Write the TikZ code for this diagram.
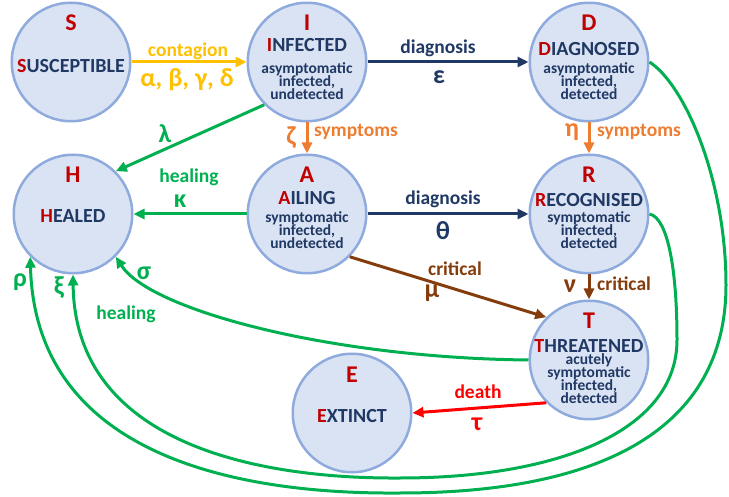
\documentclass[tikz,border=0pt]{standalone}
\usepackage{fontspec}
\setmainfont{Carlito}
\usetikzlibrary{arrows.meta,calc}
\lineskiplimit=-50pt
\newcommand\dlines[1]{\vtop{\halign{\hfil##\hfil\cr#1\crcr}}}
\definecolor{cfill}{HTML}{DAE3F3}
\definecolor{cborder}{HTML}{8FAADC}
\definecolor{navy}{HTML}{203864}
\definecolor{dred}{HTML}{C00000}
\definecolor{cyel}{HTML}{FFC000}
\definecolor{corange}{HTML}{ED7D31}
\definecolor{cgreen}{HTML}{00B050}
\definecolor{cbrown}{HTML}{843C0C}
\definecolor{cred}{HTML}{FF0000}
\begin{document}
\begin{tikzpicture}[x=1pt,y=-1pt,
  state/.style={circle, draw=cborder, fill=cfill, line width=2.5pt, minimum size=118.5pt, inner sep=0pt},
  big/.style={text=dred, font=\bfseries\fontsize{24}{26}\selectfont, inner sep=0pt, anchor=base},
  nm/.style={text=navy, font=\bfseries\fontsize{20}{22}\selectfont, inner sep=0pt, anchor=base},
  desc/.style={text=navy, font=\bfseries\fontsize{15.5}{13}\selectfont, inner sep=0pt, anchor=base},
  edge/.style={line width=3pt, -{Triangle[length=11pt,width=10pt]}},
  lab/.style={font=\bfseries\fontsize{19.5}{21}\selectfont, inner sep=0pt, anchor=base},
  gk/.style={font=\bfseries\fontsize{26}{28}\selectfont, inner sep=0pt, anchor=base}]
\useasboundingbox (0,0) rectangle (729,497);
% states
\node[state] (S) at (71,62) {};
\node[big] (Sl) at ($(S)+(0,-31)$) {S};
\node[nm] (Sn) at ($(S)+(0,10.7)$) {\textcolor{dred}{S}USCEPTIBLE};
\node[state] (I) at (307,62) {};
\node[big] (Il) at ($(I)+(0,-31)$) {I};
\node[nm] (In) at ($(I)+(0,-10.3)$) {\textcolor{dred}{I}NFECTED};
\node[desc] (Id) at ($(I)+(0,12)$) {\dlines{asymptomatic\cr infected,\cr undetected}};
\node[state] (D) at (589,62) {};
\node[big] (Dl) at ($(D)+(0,-31)$) {D};
\node[nm] (Dn) at ($(D)+(0,-6.5)$) {\textcolor{dred}{D}IAGNOSED};
\node[desc] (Dd) at ($(D)+(0,12)$) {\dlines{asymptomatic\cr infected,\cr detected}};
\node[state] (H) at (73,214) {};
\node[big] (Hl) at ($(H)+(0,-31)$) {H};
\node[nm] (Hn) at ($(H)+(0,8.7)$) {\textcolor{dred}{H}EALED};
\node[state] (A) at (307,214) {};
\node[big] (Al) at ($(A)+(0,-31)$) {A};
\node[nm] (An) at ($(A)+(0,-9)$) {\textcolor{dred}{A}ILING};
\node[desc] (Ad) at ($(A)+(0,9)$) {\dlines{symptomatic\cr infected,\cr undetected}};
\node[state] (R) at (589,214) {};
\node[big] (Rl) at ($(R)+(0,-31)$) {R};
\node[nm] (Rn) at ($(R)+(0,-7.3)$) {\textcolor{dred}{R}ECOGNISED};
\node[desc] (Rd) at ($(R)+(0,9)$) {\dlines{symptomatic\cr infected,\cr detected}};
\node[state] (T) at (589,360) {};
\node[big] (Tl) at ($(T)+(0,-31)$) {T};
\node[nm] (Tn) at ($(T)+(0,-7.5)$) {\textcolor{dred}{T}HREATENED};
\node[desc] (Td) at ($(T)+(0,5)$) {\dlines{acutely\cr symptomatic\cr infected,\cr detected}};
\node[state] (E) at (352,413) {};
\node[big] (El) at ($(E)+(0,-31)$) {E};
\node[nm] (En) at ($(E)+(0,9.7)$) {\textcolor{dred}{E}XTINCT};
% joints
\coordinate (xi1) at (677,340);
\coordinate (xi2) at (400,478);
\coordinate (rho1) at (726,285);
\coordinate (rho2) at (400,493);
% edges
\draw[edge, cyel] (S) -- (I);
\draw[edge, navy] (I) -- (D);
\draw[edge, corange] (I) -- (A);
\draw[edge, corange] (D) -- (R);
\draw[edge, cgreen] (I.225) -- (H.45);
\draw[edge, cgreen] (A) -- (H);
\draw[edge, navy] (A) -- (R);
\draw[edge, cbrown] (A.-45) -- (T.135);
\draw[edge, cbrown] (R) -- (T);
\draw[edge, cred] (T.225) -- (E.east);
\draw[edge, cgreen] (T.west) .. controls (330,358) and (150,310) .. (H.-45);
\draw[edge, cgreen] (R.east) .. controls (668,218) and (677,270) .. (xi1)
   .. controls (677,430) and (560,478) .. (xi2)
   .. controls (260,479) and (75,445) .. (H.south);
\draw[edge, cgreen] (D.east) .. controls (685,85) and (726,180) .. (rho1)
   .. controls (726,430) and (600,493) .. (rho2)
   .. controls (280,494) and (36,475) .. (H.225);
% labels
\node[lab, cyel] (l1) at (188,57) {contagion};
\node[gk, cyel] (g1) at (187,87) {α, β, γ, δ};
\node[lab, navy] (l2) at (438,54) {diagnosis};
\node[gk, navy] (g2) at (439,84) {ε};
\node[gk, corange] (g3) at (291,145) {ζ};
\node[lab, corange, anchor=base west] (l3) at (314,137) {symptoms};
\node[gk, corange] (g4) at (572,137) {η};
\node[lab, corange, anchor=base west] (l4) at (597,137) {symptoms};
\node[gk, cgreen] (g5) at (165,143) {λ};
\node[lab, cgreen] (l5) at (189,183) {healing};
\node[gk, cgreen] (g6) at (180,208) {κ};
\node[lab, navy] (l6) at (443,205) {diagnosis};
\node[gk, navy] (g7) at (443,240) {θ};
\node[lab, cbrown] (l7) at (455,276) {critical};
\node[gk, cbrown] (g8) at (432,298) {μ};
\node[gk, cbrown] (g9) at (570,293) {ν};
\node[lab, cbrown, anchor=base west] (l8) at (597,291) {critical};
\node[lab, cred] (l9) at (478,399) {death};
\node[gk, cred] (g10) at (477,430) {τ};
\node[gk, cgreen] (g11) at (144,280) {σ};
\node[lab, cgreen] (l10) at (126,320) {healing};
\node[gk, cgreen] (g12) at (20,287) {ρ};
\node[gk, cgreen] (g13) at (59,295) {ξ};
\end{tikzpicture}
\end{document}
